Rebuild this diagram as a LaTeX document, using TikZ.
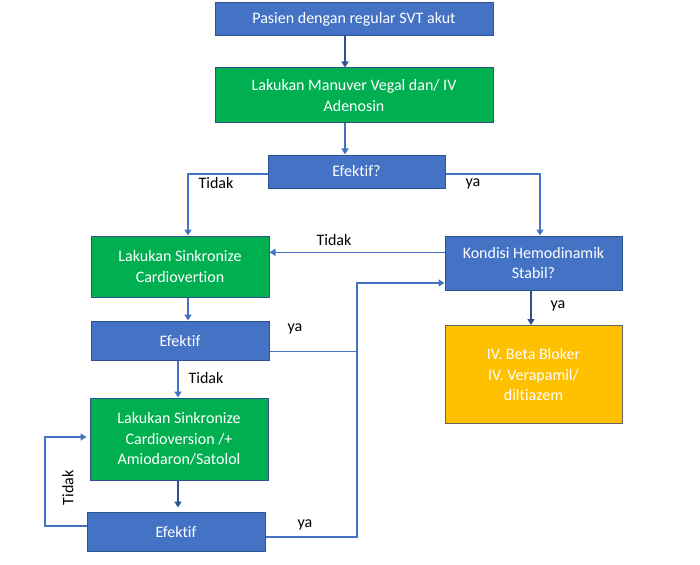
\documentclass[tikz,border=0pt]{standalone}
\usepackage{fontspec}
\setmainfont{Carlito}[Ligatures=NoCommon]
\usetikzlibrary{arrows.meta}
\definecolor{boxblue}{HTML}{4472C4}
\definecolor{edgeblue}{HTML}{2F528F}
\definecolor{boxgreen}{HTML}{00B050}
\definecolor{boxyellow}{HTML}{FFC000}
\begin{document}
\begin{tikzpicture}[x=1pt,y=-1pt,
  font=\fontsize{16}{20.5}\selectfont,
  box/.style={draw=edgeblue,line width=1pt,text=white,align=center,inner sep=0pt},
  bluebox/.style={box,fill=boxblue},
  greenbox/.style={box,fill=boxgreen},
  yellowbox/.style={box,fill=boxyellow,draw=black!60},
  conn/.style={draw=boxblue,line width=1.6pt,-{Triangle[width=7pt,length=6pt]}},
  darkconn/.style={conn,draw=edgeblue},
  plain/.style={draw=boxblue,line width=1.6pt},
  lbl/.style={text=black,inner sep=0pt}]
\useasboundingbox (0,0) rectangle (700,564);

% boxes
\node[bluebox,minimum width=278pt,minimum height=33pt] (start) at (354,19.5) {Pasien dengan regular SVT akut};
\node[greenbox,minimum width=278pt,minimum height=55pt] (vagal) at (354,95.5) {Lakukan Manuver Vegal dan/ IV\\Adenosin};
\node[bluebox,minimum width=177pt,minimum height=33pt] (eff1) at (356.5,171.5) {Efektif?};
\node[greenbox,minimum width=178pt,minimum height=61pt] (sync1) at (180,266.5) {Lakukan Sinkronize\\Cardiovertion};
\node[bluebox,minimum width=177pt,minimum height=54pt] (hemo) at (533.5,263) {Kondisi Hemodinamik\\Stabil?};
\node[bluebox,minimum width=178pt,minimum height=39pt] (eff2) at (180,340.5) {Efektif};
\node[greenbox,minimum width=178pt,minimum height=82pt] (sync2) at (179,439) {Lakukan Sinkronize\\Cardioversion /+\\Amiodaron/Satolol};
\node[bluebox,minimum width=178pt,minimum height=39pt] (eff3) at (176,531.5) {Efektif};
\node[yellowbox,minimum width=177pt,minimum height=98pt] (drug) at (533.5,374.5) {IV. Beta Bloker\\IV. Verapamil/\\diltiazem};

% routing points
\coordinate (xa) at (345,0);
\coordinate (xb) at (188,0);
\coordinate (xc) at (540,0);
\coordinate (xd) at (178,0);
\coordinate (xe) at (531,0);
\coordinate (bus) at (357,0);
\coordinate (loop) at (45,0);

% connectors
\draw[darkconn] (start.south -| xa) -- (vagal.north -| xa);
\draw[conn] (vagal.south -| xa) -- (eff1.north -| xa);
\draw[conn] ([yshift=-2.5pt]eff1.west) -| (sync1.north -| xb);
\draw[conn] ([yshift=-2.5pt]eff1.east) -| (hemo.north -| xc);
\draw[conn] ([yshift=10.7pt]hemo.west) -- ([yshift=14.2pt]sync1.east);
\draw[conn] (sync1.south -| xb) -- (eff2.north -| xb);
\draw[plain] ([yshift=-11pt]eff2.east) -- ([yshift=-11pt]eff2.east -| bus);
\draw[conn] ([yshift=-5.5pt]eff3.east) -| ([yshift=-20pt]hemo.west -| bus) -- ([yshift=-20pt]hemo.west);
\draw[conn] (eff2.south -| xd) -- (sync2.north -| xd);
\draw[darkconn] (sync2.south -| xd) -- ([yshift=4pt]eff3.north -| xd);
\draw[conn] ([yshift=5.5pt]eff3.west) -| ([yshift=2pt]sync2.west -| loop) -- ([xshift=-3pt,yshift=2pt]sync2.west);
\draw[darkconn] (hemo.south -| xe) -- (drug.north -| xe);

% labels
\node[lbl] (t1) at (216,183) {Tidak};
\node[lbl] (y1) at (473,184) {ya};
\node[lbl] (t2) at (334,240) {Tidak};
\node[lbl] (y2) at (295,329) {ya};
\node[lbl] (t3) at (206,378) {Tidak};
\node[lbl] (t4) at (68,488) [rotate=90] {Tidak};
\node[lbl] (y3) at (305,525) {ya};
\node[lbl] (y4) at (558,306) {ya};
\end{tikzpicture}
\end{document}
